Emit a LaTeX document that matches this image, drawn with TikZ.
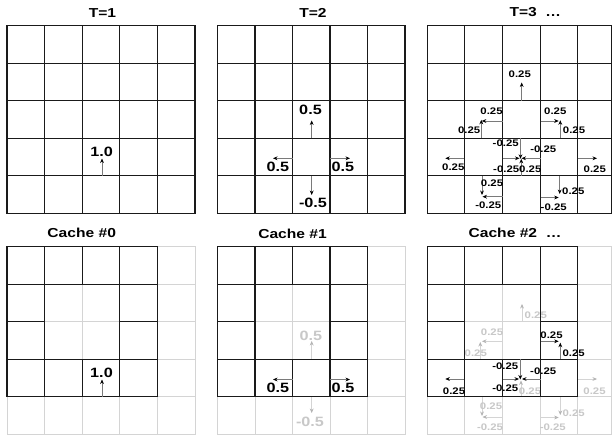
\documentclass[tikz,border=0pt]{standalone}
\usepackage{fontspec}
\setmainfont{Liberation Sans}
\newfontfamily\lbf[FakeStretch=1.2]{Liberation Sans Bold}
\usetikzlibrary{arrows.meta}
\definecolor{ghost}{HTML}{D4D4D4}
\definecolor{ghosttext}{HTML}{C8C8C8}
\definecolor{gridc}{HTML}{1A1A1A}
\definecolor{shaft}{HTML}{7A7A7A}
\begin{document}
\begin{tikzpicture}[x=1pt,y=-1pt,line cap=rect,
  gridline/.style={draw=gridc,line width=1.1pt},
  ghostline/.style={draw=ghost,line width=0.9pt},
  arr/.style={draw=shaft,line width=0.7pt,line cap=butt,-{Stealth[length=4.5pt,width=3.8pt,color=black,fill=black]}},
  garr/.style={draw=ghost,line width=0.7pt,line cap=butt,-{Stealth[length=4.5pt,width=3.8pt,color=ghost!85!black,fill=ghost!85!black]}},
  ttl/.style={font=\lbf\fontsize{13}{15}\selectfont,inner sep=0pt},
  big/.style={font=\lbf\fontsize{13.5}{15}\selectfont,inner sep=0pt},
  sml/.style={font=\lbf\fontsize{9.5}{11}\selectfont,inner sep=0pt},
  gh/.style={text=ghosttext}
]
\fill[white] (0,0) rectangle (612,435);
\useasboundingbox (0,0) rectangle (612,435);

% ================= T=1 =================
\node[ttl] (t1) at (102.5,12.8) {T=1};
\foreach \x in {7,44.6,82.2,119.8,157.4,195} \draw[gridline] (\x,25.5) -- (\x,213.5);
\foreach \y in {25.5,63.1,100.7,138.3,175.9,213.5} \draw[gridline] (7,\y) -- (195,\y);
\draw[arr] (102,175.9) -- (102,158.5);
\node[big] (a1) at (101.7,151.7) {1.0};

% ================= T=2 =================
\node[ttl] (t2) at (313,13) {T=2};
\foreach \x in {217.5,255,292.5,330,367.5,405} \draw[gridline] (\x,25.5) -- (\x,213.5);
\foreach \y in {25.5,63.1,100.7,138.3,175.9,213.5} \draw[gridline] (217.5,\y) -- (405,\y);
\draw[arr] (311.7,138.3) -- (311.7,120.5);
\node[big] (b1) at (310.5,110) {0.5};
\draw[arr] (292.5,158.3) -- (273,158.3);
\node[big] (b2) at (277.8,166.7) {0.5};
\draw[arr] (330,158.3) -- (350,158.3);
\node[big] (b3) at (342.8,166.7) {0.5};
\draw[arr] (311.7,175.9) -- (311.7,195);
\node[big] (b4) at (313,202.5) {-0.5};

% ================= T=3 =================
\node[ttl] (t3) at (535.3,12) {T=3\ \ …};
\foreach \x in {427.3,464.3,502.7,540.7,577.7,611.5} \draw[gridline] (\x,25.5) -- (\x,213.5);
\foreach \y in {25.5,63.1,100.7,138.3,175.9,213.5} \draw[gridline] (427.3,\y) -- (611.5,\y);
\draw[arr] (521.7,100.7) -- (521.7,82.5);
\node[sml] (c1) at (519.8,74.2) {0.25};
\draw[arr] (502.7,121) -- (481.8,121);
\node[sml] (c2) at (491.5,111.3) {0.25};
\draw[arr] (481.3,138.3) -- (481.3,119.8);
\node[sml] (c3) at (469.2,130) {0.25};
\draw[arr] (540.7,121) -- (558.7,121);
\node[sml] (c4) at (555.3,111.3) {0.25};
\draw[arr] (560.3,138.3) -- (560.3,120.3);
\node[sml] (c5) at (574,130) {0.25};
\draw[arr] (520.5,138.3) -- (520.5,158.8);
\node[sml] (c6) at (505.7,143.5) {-0.25};
\draw[arr] (540.7,158.3) -- (521.5,158.3);
\node[sml] (c7) at (543.3,149.5) {-0.25};
\draw[arr] (502.7,158.3) -- (519.5,158.3);
\node[sml] (c8) at (506.2,169) {-0.25};
\draw[arr] (521.3,175.9) -- (521.3,158.8);
\node[sml] (c9) at (530.3,169) {0.25};
\draw[arr] (464.3,158.3) -- (445.3,158.3);
\node[sml] (c10) at (453.3,167) {0.25};
\draw[arr] (577.7,158.3) -- (597,158.3);
\node[sml] (c11) at (594.8,169.5) {0.25};
\draw[arr] (482,175.9) -- (482,195);
\node[sml] (c12) at (492,183.7) {0.25};
\draw[arr] (502.7,196.7) -- (482.5,196.7);
\node[sml] (c13) at (488.3,205.3) {-0.25};
\draw[arr] (540.7,197.5) -- (558.7,197.5);
\node[sml] (c14) at (553.7,207) {-0.25};
\draw[arr] (559.7,175.9) -- (559.7,194);
\node[sml] (c15) at (573.3,191.3) {0.25};

% ================= Cache #0 =================
\node[ttl] (k0) at (81.7,233.3) {Cache \#0};
\foreach \x in {7,44.6,82.2,119.8,157.4,195} \draw[ghostline] (\x,246.5) -- (\x,434.3);
\foreach \y in {246.5,284.1,321.7,359.3,396.9,434.3} \draw[ghostline] (7,\y) -- (195,\y);
\draw[gridline] (7,246.5) rectangle (157.4,396.9);
\draw[gridline] (7,284.1) -- (157.4,284.1) (7,359.3) -- (157.4,359.3);
\draw[gridline] (7,321.7) -- (44.6,321.7) (119.8,321.7) -- (157.4,321.7);
\draw[gridline] (44.6,246.5) -- (44.6,396.9) (119.8,246.5) -- (119.8,396.9);
\draw[gridline] (82.2,246.5) -- (82.2,284.1) (82.2,359.3) -- (82.2,396.9);
\draw[arr] (102,396.9) -- (102,379.5);
\node[big] (d1) at (101.5,372.5) {1.0};

% ================= Cache #1 =================
\node[ttl] (k1) at (292.5,233.5) {Cache \#1};
\foreach \x in {217.5,255,292.5,330,367.5,405} \draw[ghostline] (\x,246.5) -- (\x,434.3);
\foreach \y in {246.5,284.1,321.7,359.3,396.9,434.3} \draw[ghostline] (217.5,\y) -- (405,\y);
\draw[garr] (311.7,359.3) -- (311.7,341);
\node[big,gh] (e1) at (310.8,336) {0.5};
\draw[garr] (311.7,396.9) -- (311.7,413);
\node[big,gh] (e4) at (310,422) {-0.5};
\draw[gridline] (217.5,246.5) rectangle (367.5,396.9);
\draw[gridline] (217.5,284.1) -- (367.5,284.1) (217.5,359.3) -- (367.5,359.3);
\draw[gridline] (217.5,321.7) -- (255,321.7) (330,321.7) -- (367.5,321.7);
\draw[gridline] (255,246.5) -- (255,396.9) (330,246.5) -- (330,396.9);
\draw[gridline] (292.5,246.5) -- (292.5,284.1) (292.5,359.3) -- (292.5,396.9);
\draw[arr] (292.5,379.5) -- (273,379.5);
\node[big] (e2) at (277.8,388.3) {0.5};
\draw[arr] (330,379.5) -- (350,379.5);
\node[big] (e3) at (343,388.3) {0.5};

% ================= Cache #2 =================
\node[ttl] (k2) at (515,233) {Cache \#2\ \ …};
\foreach \x in {427.3,464.3,502.7,540.7,577.7,611.5} \draw[ghostline] (\x,246.5) -- (\x,434.3);
\foreach \y in {246.5,284.1,321.7,359.3,396.9,434.3} \draw[ghostline] (427.3,\y) -- (611.5,\y);
% ghost arrows
\draw[garr] (522,321.7) -- (522,304);
\node[sml,gh] (f1) at (535.8,315.7) {0.25};
\draw[garr] (502.7,341.3) -- (482,341.3);
\node[sml,gh] (f2) at (492,332.5) {0.25};
\draw[garr] (480.3,359.3) -- (480.3,342);
\node[sml,gh] (f3) at (475.8,353.3) {0.25};
\draw[garr] (521,396.9) -- (521,380.5);
\node[sml,gh] (f4) at (530,390.8) {0.25};
\draw[garr] (577.7,379) -- (597,379);
\node[sml,gh] (f5) at (594.5,391) {0.25};
\draw[garr] (482,396.9) -- (482,416);
\node[sml,gh] (f6) at (491,406.7) {0.25};
\draw[garr] (502.7,417) -- (482.5,417);
\node[sml,gh] (f7) at (490,427.5) {-0.25};
\draw[garr] (540.7,417.5) -- (558.7,417.5);
\node[sml,gh] (f8) at (552.8,427) {-0.25};
\draw[garr] (560.3,396.9) -- (560.3,415);
\node[sml,gh] (f9) at (573.7,412.8) {0.25};
% black grid
\draw[gridline] (427.3,246.5) rectangle (577.7,396.9);
\draw[gridline] (427.3,284.1) -- (577.7,284.1) (427.3,359.3) -- (577.7,359.3);
\draw[gridline] (427.3,321.7) -- (464.3,321.7) (540.7,321.7) -- (577.7,321.7);
\draw[gridline] (464.3,246.5) -- (464.3,396.9) (540.7,246.5) -- (540.7,396.9);
\draw[gridline] (502.7,246.5) -- (502.7,284.1) (502.7,359.3) -- (502.7,396.9);
% black arrows
\draw[arr] (540.7,341.3) -- (558.7,341.3);
\node[sml] (g1) at (551.5,335.7) {0.25};
\draw[arr] (560.3,359.3) -- (560.3,342.7);
\node[sml] (g2) at (573.7,353.3) {0.25};
\draw[arr] (464.3,379) -- (445.3,379);
\node[sml] (g3) at (454,391) {0.25};
\draw[arr] (520.3,359.3) -- (520.3,379.5);
\node[sml] (g4) at (505.3,366.2) {-0.25};
\draw[arr] (540.7,379) -- (522,379);
\node[sml] (g5) at (543.2,371.7) {-0.25};
\draw[arr] (502.7,379) -- (519,379);
\node[sml] (g6) at (505.3,388) {-0.25};
\end{tikzpicture}
\end{document}
